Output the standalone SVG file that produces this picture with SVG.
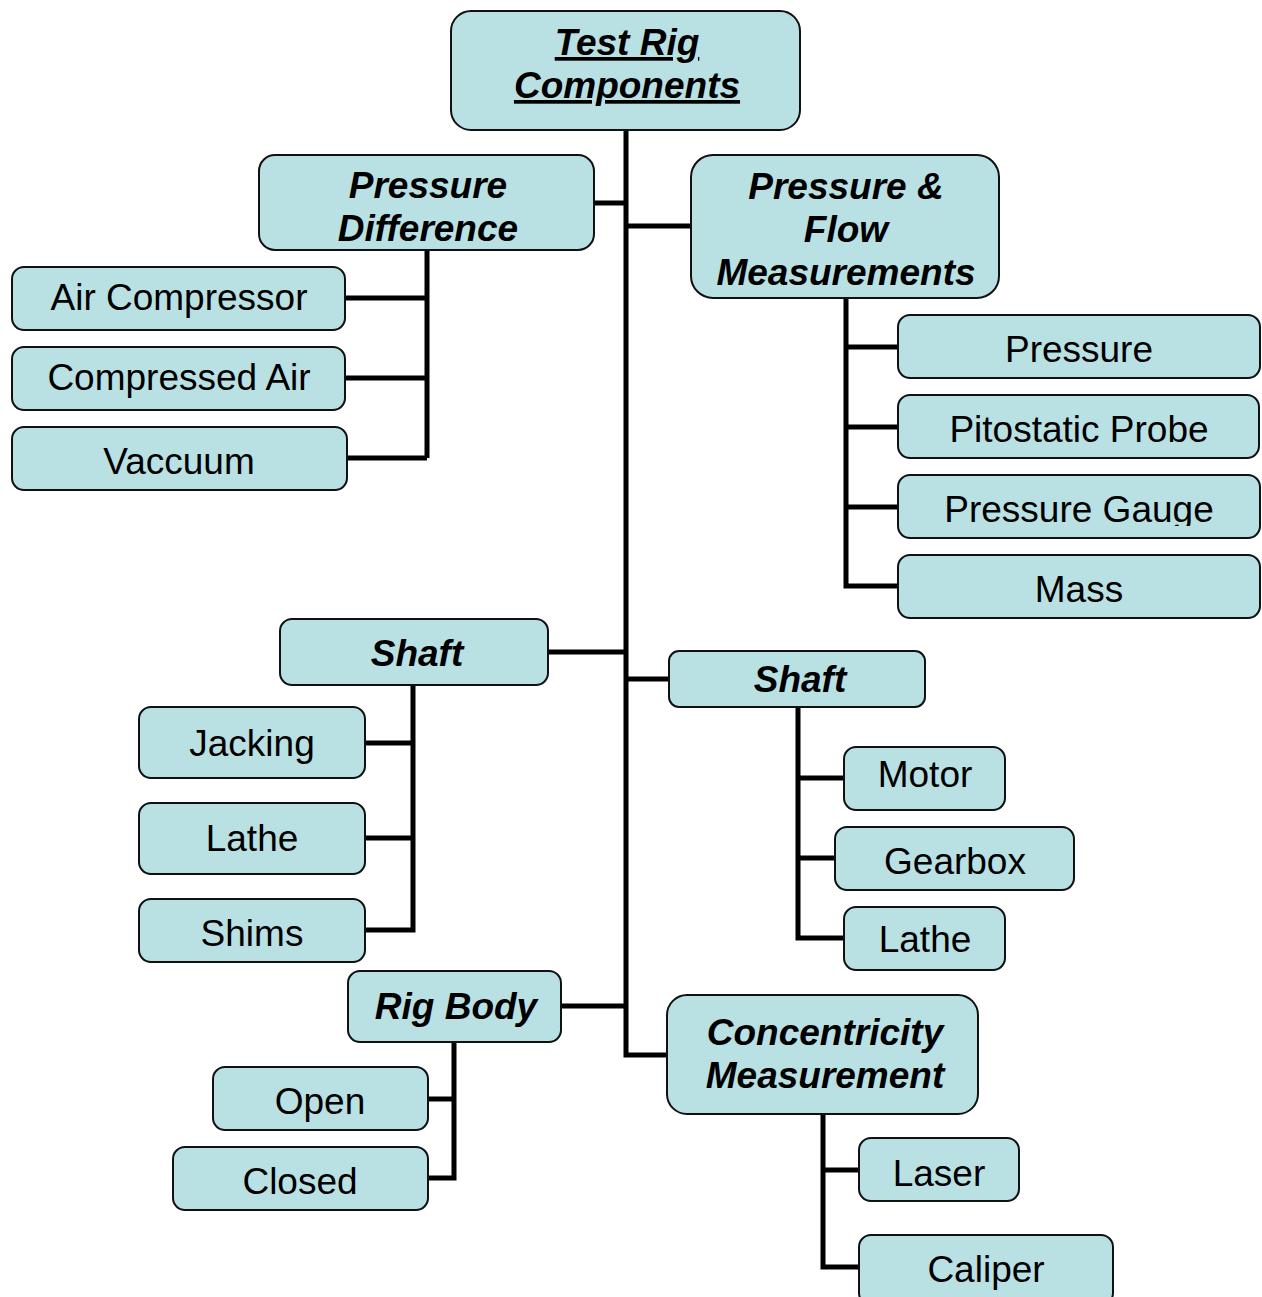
<svg xmlns="http://www.w3.org/2000/svg" width="1262" height="1297" viewBox="0 0 1262 1297">
<style>
.box{fill:#b9e0e3;stroke:#111;stroke-width:2}
.t{font-family:"Liberation Sans",Arial,sans-serif;font-size:37px;fill:#000;text-anchor:middle}
.b{font-weight:bold;font-style:italic}
.u{text-decoration:underline}
.c{fill:none;stroke:#000;stroke-width:5}
</style>
<defs>
<clipPath id="gclip"><rect x="898" y="475" width="362" height="51"/></clipPath>
</defs>
<rect width="1262" height="1297" fill="#fff"/>
<g id="connectors">
<path class="c" d="M626 130V1055H667"/>
<path class="c" d="M594 203H626M626 226H691M548 652H626M626 679H669M561 1006H626"/>
<path class="c" d="M427 250V458M345 298H427M345 378H427M347 458H427"/>
<path class="c" d="M846 298V586H898M846 347H898M846 427H898M846 507H898"/>
<path class="c" d="M413 685V930H366M366 743H413M366 838H413"/>
<path class="c" d="M798 707V938H844M798 778H844M798 858H835"/>
<path class="c" d="M454 1042V1178H428M428 1099H454"/>
<path class="c" d="M823 1114V1267H859M823 1170H859"/>
</g>
<g id="root"><rect class="box" x="451" y="11" width="349" height="119" rx="20"/><text class="t b u" x="627" y="55">Test Rig</text><text class="t b u" x="627" y="98">Components</text></g>
<g id="pressure-difference"><rect class="box" x="259" y="155" width="335" height="95" rx="16"/><text class="t b" x="428" y="198">Pressure</text><text class="t b" x="428" y="241">Difference</text></g>
<g id="air-compressor"><rect class="box" x="12" y="267" width="333" height="63" rx="12"/><text class="t" x="179" y="310">Air Compressor</text></g>
<g id="compressed-air"><rect class="box" x="12" y="347" width="333" height="63" rx="12"/><text class="t" x="179" y="390">Compressed Air</text></g>
<g id="vaccuum"><rect class="box" x="12" y="427" width="335" height="63" rx="12"/><text class="t" x="179" y="474">Vaccuum</text></g>
<g id="pressure-flow"><rect class="box" x="691" y="155" width="308" height="143" rx="22"/><text class="t b" x="846" y="199">Pressure &amp;</text><text class="t b" x="846" y="242">Flow</text><text class="t b" x="846" y="285">Measurements</text></g>
<g id="pressure"><rect class="box" x="898" y="315" width="362" height="63" rx="12"/><text class="t" x="1079" y="362">Pressure</text></g>
<g id="pitostatic-probe"><rect class="box" x="898" y="395" width="361" height="63" rx="12"/><text class="t" x="1079" y="442">Pitostatic Probe</text></g>
<g id="pressure-gauge"><rect class="box" x="898" y="475" width="362" height="63" rx="12"/><text class="t" x="1079" y="522" clip-path="url(#gclip)">Pressure Gauge</text></g>
<g id="mass"><rect class="box" x="898" y="555" width="362" height="63" rx="12"/><text class="t" x="1079" y="602">Mass</text></g>
<g id="shaft-left"><rect class="box" x="280" y="619" width="268" height="66" rx="12"/><text class="t b" x="417" y="666">Shaft</text></g>
<g id="jacking"><rect class="box" x="139" y="707" width="226" height="71" rx="12"/><text class="t" x="252" y="756">Jacking</text></g>
<g id="lathe-left"><rect class="box" x="139" y="803" width="226" height="71" rx="12"/><text class="t" x="252" y="851">Lathe</text></g>
<g id="shims"><rect class="box" x="139" y="899" width="226" height="63" rx="12"/><text class="t" x="252" y="946">Shims</text></g>
<g id="shaft-right"><rect class="box" x="669" y="651" width="256" height="56" rx="10"/><text class="t b" x="800" y="692">Shaft</text></g>
<g id="motor"><rect class="box" x="844" y="747" width="161" height="63" rx="12"/><text class="t" x="925" y="787">Motor</text></g>
<g id="gearbox"><rect class="box" x="835" y="827" width="239" height="63" rx="12"/><text class="t" x="955" y="874">Gearbox</text></g>
<g id="lathe-right"><rect class="box" x="844" y="907" width="161" height="63" rx="12"/><text class="t" x="925" y="952">Lathe</text></g>
<g id="rig-body"><rect class="box" x="348" y="971" width="213" height="71" rx="12"/><text class="t b" x="456" y="1019">Rig Body</text></g>
<g id="open"><rect class="box" x="213" y="1067" width="215" height="63" rx="12"/><text class="t" x="320" y="1114">Open</text></g>
<g id="closed"><rect class="box" x="173" y="1147" width="255" height="63" rx="12"/><text class="t" x="300" y="1194">Closed</text></g>
<g id="concentricity"><rect class="box" x="667" y="995" width="311" height="119" rx="20"/><text class="t b" x="825" y="1045">Concentricity</text><text class="t b" x="825" y="1088">Measurement</text></g>
<g id="laser"><rect class="box" x="859" y="1138" width="160" height="63" rx="12"/><text class="t" x="939" y="1186">Laser</text></g>
<g id="caliper"><rect class="box" x="859" y="1235" width="254" height="70" rx="12"/><text class="t" x="986" y="1282">Caliper</text></g>
</svg>
